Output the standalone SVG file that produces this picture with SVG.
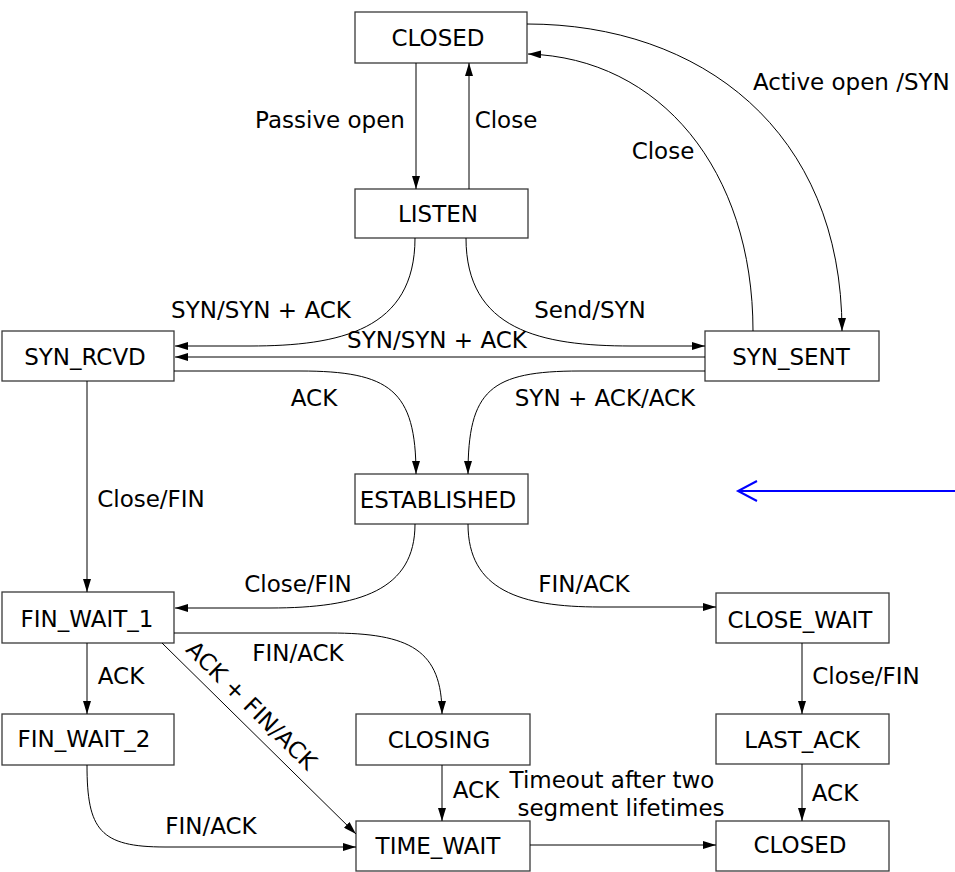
<svg xmlns="http://www.w3.org/2000/svg" width="955" height="872" viewBox="0 0 955 872">
  <style>
    .box { fill: #ffffff; stroke: #3a3a3a; stroke-width: 1.3; }
    .node-label { font-family: "DejaVu Sans", Verdana, sans-serif; font-size: 23px; fill: #000; text-anchor: middle; }
    .edge { fill: none; stroke: #000; stroke-width: 1; marker-end: url(#arrow); }
    .edge-label { font-family: "DejaVu Sans", Verdana, sans-serif; font-size: 23px; fill: #000; text-anchor: middle; }
    .pointer { fill: none; stroke: #0000ff; stroke-width: 2; }
  </style>
  <defs>
    <marker id="arrow" markerUnits="userSpaceOnUse" markerWidth="14" markerHeight="8" refX="13" refY="4" orient="auto">
      <path d="M0,0 L13,4 L0,8 z" fill="#000"/>
    </marker>
  </defs>

  <rect width="955" height="872" fill="#ffffff"/>

  <!-- states -->
  <g id="closed-top"><rect class="box" x="355" y="12" width="172" height="51"/><text class="node-label" x="438" y="46">CLOSED</text></g>
  <g id="listen"><rect class="box" x="355" y="189" width="173" height="49"/><text class="node-label" x="438" y="222">LISTEN</text></g>
  <g id="syn-rcvd"><rect class="box" x="2" y="331" width="172" height="50"/><text class="node-label" x="85" y="365">SYN_RCVD</text></g>
  <g id="syn-sent"><rect class="box" x="705" y="331" width="174" height="50"/><text class="node-label" x="791" y="365">SYN_SENT</text></g>
  <g id="established"><rect class="box" x="355" y="474" width="173" height="50"/><text class="node-label" x="438" y="508">ESTABLISHED</text></g>
  <g id="fin-wait-1"><rect class="box" x="2" y="592" width="172" height="51"/><text class="node-label" x="87" y="627">FIN_WAIT_1</text></g>
  <g id="close-wait"><rect class="box" x="716" y="593" width="173" height="50"/><text class="node-label" x="800" y="628">CLOSE_WAIT</text></g>
  <g id="fin-wait-2"><rect class="box" x="2" y="714" width="172" height="51"/><text class="node-label" x="84" y="747">FIN_WAIT_2</text></g>
  <g id="closing"><rect class="box" x="356" y="714" width="174" height="51"/><text class="node-label" x="439" y="748">CLOSING</text></g>
  <g id="last-ack"><rect class="box" x="716" y="714" width="173" height="50"/><text class="node-label" x="802" y="748">LAST_ACK</text></g>
  <g id="time-wait"><rect class="box" x="356" y="821" width="174" height="50"/><text class="node-label" x="438" y="854">TIME_WAIT</text></g>
  <g id="closed-bottom"><rect class="box" x="716" y="821" width="173" height="50"/><text class="node-label" x="800" y="853">CLOSED</text></g>

  <!-- transitions -->
  <g id="connectors">
    <path class="edge" d="M416,63 L416,189"/>
    <path class="edge" d="M469,189 L469,63"/>
    <path class="edge" d="M527,24 C700,24 842,130 842,331"/>
    <path class="edge" d="M753,331 C753,170 660,58 528,54"/>
    <path class="edge" d="M415,238 C415,330 340,346 250,346 L175,346"/>
    <path class="edge" d="M466,238 C466,330 541,346 631,346 L705,346"/>
    <path class="edge" d="M705,357 L175,357"/>
    <path class="edge" d="M174,371 L300,371 C390,371 416,390 416,474"/>
    <path class="edge" d="M705,371 L580,371 C490,371 468,390 468,474"/>
    <path class="edge" d="M87,381 L87,592"/>
    <path class="edge" d="M415,524 C415,590 360,608 270,608 L175,608"/>
    <path class="edge" d="M468,524 C468,590 520,607 600,607 L716,607"/>
    <path class="edge" d="M174,633 L330,633 C410,633 442,650 442,714"/>
    <path class="edge" d="M87,643 L87,714"/>
    <path class="edge" d="M162,643 L356,834"/>
    <path class="edge" d="M87,765 C87,830 100,847 165,847 L356,847"/>
    <path class="edge" d="M442,765 L442,821"/>
    <path class="edge" d="M530,845 L716,845"/>
    <path class="edge" d="M802,643 L802,714"/>
    <path class="edge" d="M802,764 L802,821"/>
  </g>

  <!-- transition labels -->
  <g id="labels">
    <text class="edge-label" x="330" y="128">Passive open</text>
    <text class="edge-label" x="506" y="128">Close</text>
    <text class="edge-label" x="753" y="90" style="text-anchor:start">Active open /SYN</text>
    <text class="edge-label" x="663" y="159">Close</text>
    <text class="edge-label" x="261" y="318">SYN/SYN + ACK</text>
    <text class="edge-label" x="590" y="318">Send/SYN</text>
    <text class="edge-label" x="437" y="348">SYN/SYN + ACK</text>
    <text class="edge-label" x="314" y="406">ACK</text>
    <text class="edge-label" x="605" y="406">SYN + ACK/ACK</text>
    <text class="edge-label" x="151" y="507">Close/FIN</text>
    <text class="edge-label" x="298" y="592">Close/FIN</text>
    <text class="edge-label" x="584" y="592">FIN/ACK</text>
    <text class="edge-label" x="298" y="661">FIN/ACK</text>
    <text class="edge-label" x="121" y="684">ACK</text>
    <text class="edge-label" transform="translate(246,711) rotate(44.5)">ACK + FIN/ACK</text>
    <text class="edge-label" x="866" y="684">Close/FIN</text>
    <text class="edge-label" x="476" y="798">ACK</text>
    <text class="edge-label" x="835" y="801">ACK</text>
    <text class="edge-label" x="612" y="788">Timeout after two</text>
    <text class="edge-label" x="621" y="816">segment lifetimes</text>
    <text class="edge-label" x="211" y="834">FIN/ACK</text>
  </g>

  <!-- blue pointer -->
  <g id="pointer">
    <path class="pointer" d="M955,491 L738,491"/>
    <path class="pointer" d="M757,481 L738,491 L757,501"/>
  </g>
</svg>
